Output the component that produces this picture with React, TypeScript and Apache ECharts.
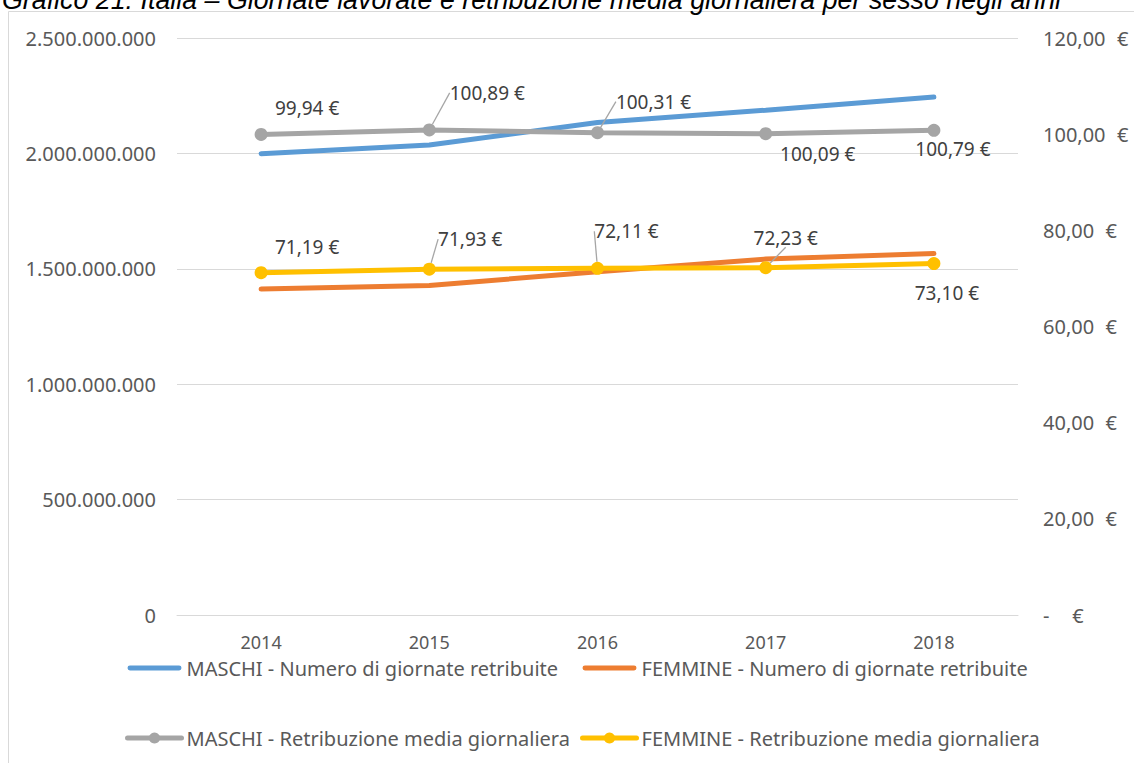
import React, { useEffect, useRef } from "react";
import * as echarts from "echarts";

const titleText =
  "Grafico 21: Italia – Giornate lavorate e retribuzione media giornaliera per sesso negli anni";
const years = ["2014", "2015", "2016", "2017", "2018"];
const maschiGiornate = [1999000000, 2036000000, 2134000000, 2187000000, 2244000000];
const femmineGiornate = [1412000000, 1428000000, 1487000000, 1542000000, 1566000000];
const maschiRetribuzione = [99.94, 100.89, 100.31, 100.09, 100.79];
const femmineRetribuzione = [71.19, 71.93, 72.11, 72.23, 73.1];

const seriesNames = [
  "MASCHI - Numero di giornate retribuite",
  "FEMMINE - Numero di giornate retribuite",
  "MASCHI - Retribuzione media giornaliera",
  "FEMMINE - Retribuzione media giornaliera",
];

// label placement (style only)
const maschiLabelShift = [
  [46, -5],
  [58, -16],
  [56, -10],
  [52, 41],
  [19, 40],
];
const femmineLabelShift = [
  [46, -5],
  [41, -9],
  [29, -16],
  [20, -9],
  [13, 50],
];
const maschiLeader = [false, true, true, false, false];
const femmineLeader = [false, true, true, true, false];

const FONT = "Noto Sans";
const FS = "\u2007";
const euro = (v: number) => v.toFixed(2).replace(".", ",") + " €";
const euroAxis = (v: number) =>
  v === 0 ? "-" + FS + FS + "€" : v.toFixed(2).replace(".", ",") + FS + "€";
const dots = (v: number) =>
  v === 0 ? "0" : Math.round(v).toString().replace(/\B(?=(\d{3})+(?!\d))/g, ".");

const barIcon = "path://M2.5,0H52.5A2.5,2.5 0 0 1 52.5,5H2.5A2.5,2.5 0 0 1 2.5,0Z";

export default function App() {
  const ref = useRef<HTMLDivElement>(null);
  useEffect(() => {
    if (!ref.current) return;
    const chart = echarts.init(ref.current, undefined, { renderer: "svg" });

    const labelSeries = (
      name: string,
      values: number[],
      color: string,
      shifts: number[][],
      leaders: boolean[]
    ) => ({
      name,
      type: "line",
      yAxisIndex: 1,
      data: values.map((v, i) => ({ value: v, labelLine: { show: leaders[i] } })),
      symbol: "circle",
      symbolSize: 13,
      itemStyle: { color },
      lineStyle: { color, width: 5, cap: "round" },
      label: {
        show: true,
        position: "top",
        formatter: (p: any) => euro(p.value),
        color: "#404040",
        fontFamily: FONT,
        fontSize: 19,
      },
      labelLine: { show: true, lineStyle: { color: "#a6a6a6", width: 1.3 } },
      labelLayout: (p: any) => ({ dx: shifts[p.dataIndex][0], dy: shifts[p.dataIndex][1] }),
    });

    const legendCommon = {
      orient: "vertical",
      top: 653,
      itemGap: 50,
      itemWidth: 54,
      itemHeight: 14,
      textStyle: { color: "#595959", fontFamily: FONT, fontSize: 20 },
      lineStyle: { width: 5, cap: "round" },
    };

    chart.setOption({
      animation: false,
      backgroundColor: "#ffffff",
      title: {
        text: titleText,
        left: -3,
        top: -19,
        textStyle: {
          fontFamily: "Liberation Sans",
          fontStyle: "italic",
          fontWeight: "normal",
          fontSize: 26.8,
          color: "#000000",
        },
      },
      graphic: [
        {
          type: "rect",
          shape: { x: 8.5, y: 11.5, width: 2000, height: 2000 },
          style: { fill: "none", stroke: "#d9d9d9", lineWidth: 1 },
          silent: true,
          z: -10,
        },
      ],
      grid: { left: 177, right: 116, top: 38, bottom: 148 },
      legend: [
        {
          ...legendCommon,
          left: 120,
          data: [{ name: seriesNames[0], icon: barIcon }, { name: seriesNames[2] }],
        },
        {
          ...legendCommon,
          left: 575,
          data: [{ name: seriesNames[1], icon: barIcon }, { name: seriesNames[3] }],
        },
      ],
      xAxis: {
        type: "category",
        data: years,
        boundaryGap: true,
        axisLine: { show: true, lineStyle: { color: "#d9d9d9", width: 1 } },
        axisTick: { show: false },
        axisLabel: { color: "#595959", fontFamily: FONT, fontSize: 18, margin: 18 },
      },
      yAxis: [
        {
          type: "value",
          min: 0,
          max: 2500000000,
          interval: 500000000,
          axisLine: { show: false },
          axisTick: { show: false },
          splitLine: { lineStyle: { color: "#d9d9d9", width: 1 } },
          axisLabel: {
            color: "#595959",
            fontFamily: FONT,
            fontSize: 20,
            margin: 21,
            formatter: (v: number) => dots(v),
          },
        },
        {
          type: "value",
          position: "right",
          min: 0,
          max: 120,
          interval: 20,
          axisLine: { show: false },
          axisTick: { show: false },
          splitLine: { show: false },
          axisLabel: {
            color: "#595959",
            fontFamily: FONT,
            fontSize: 20,
            margin: 25,
            formatter: (v: number) => euroAxis(v),
          },
        },
      ],
      series: [
        {
          name: seriesNames[0],
          type: "line",
          yAxisIndex: 0,
          data: maschiGiornate,
          symbol: "none",
          itemStyle: { color: "#5B9BD5" },
          lineStyle: { color: "#5B9BD5", width: 5, cap: "round" },
        },
        {
          name: seriesNames[1],
          type: "line",
          yAxisIndex: 0,
          data: femmineGiornate,
          symbol: "none",
          itemStyle: { color: "#ED7D31" },
          lineStyle: { color: "#ED7D31", width: 5, cap: "round" },
        },
        labelSeries(seriesNames[2], maschiRetribuzione, "#A5A5A5", maschiLabelShift, maschiLeader),
        labelSeries(seriesNames[3], femmineRetribuzione, "#FFC000", femmineLabelShift, femmineLeader),
      ],
    });
    return () => chart.dispose();
  }, []);
  return (
    <div
      ref={ref}
      style={{ position: "absolute", left: 0, top: 0, width: 1134, height: 763 }}
    />
  );
}
